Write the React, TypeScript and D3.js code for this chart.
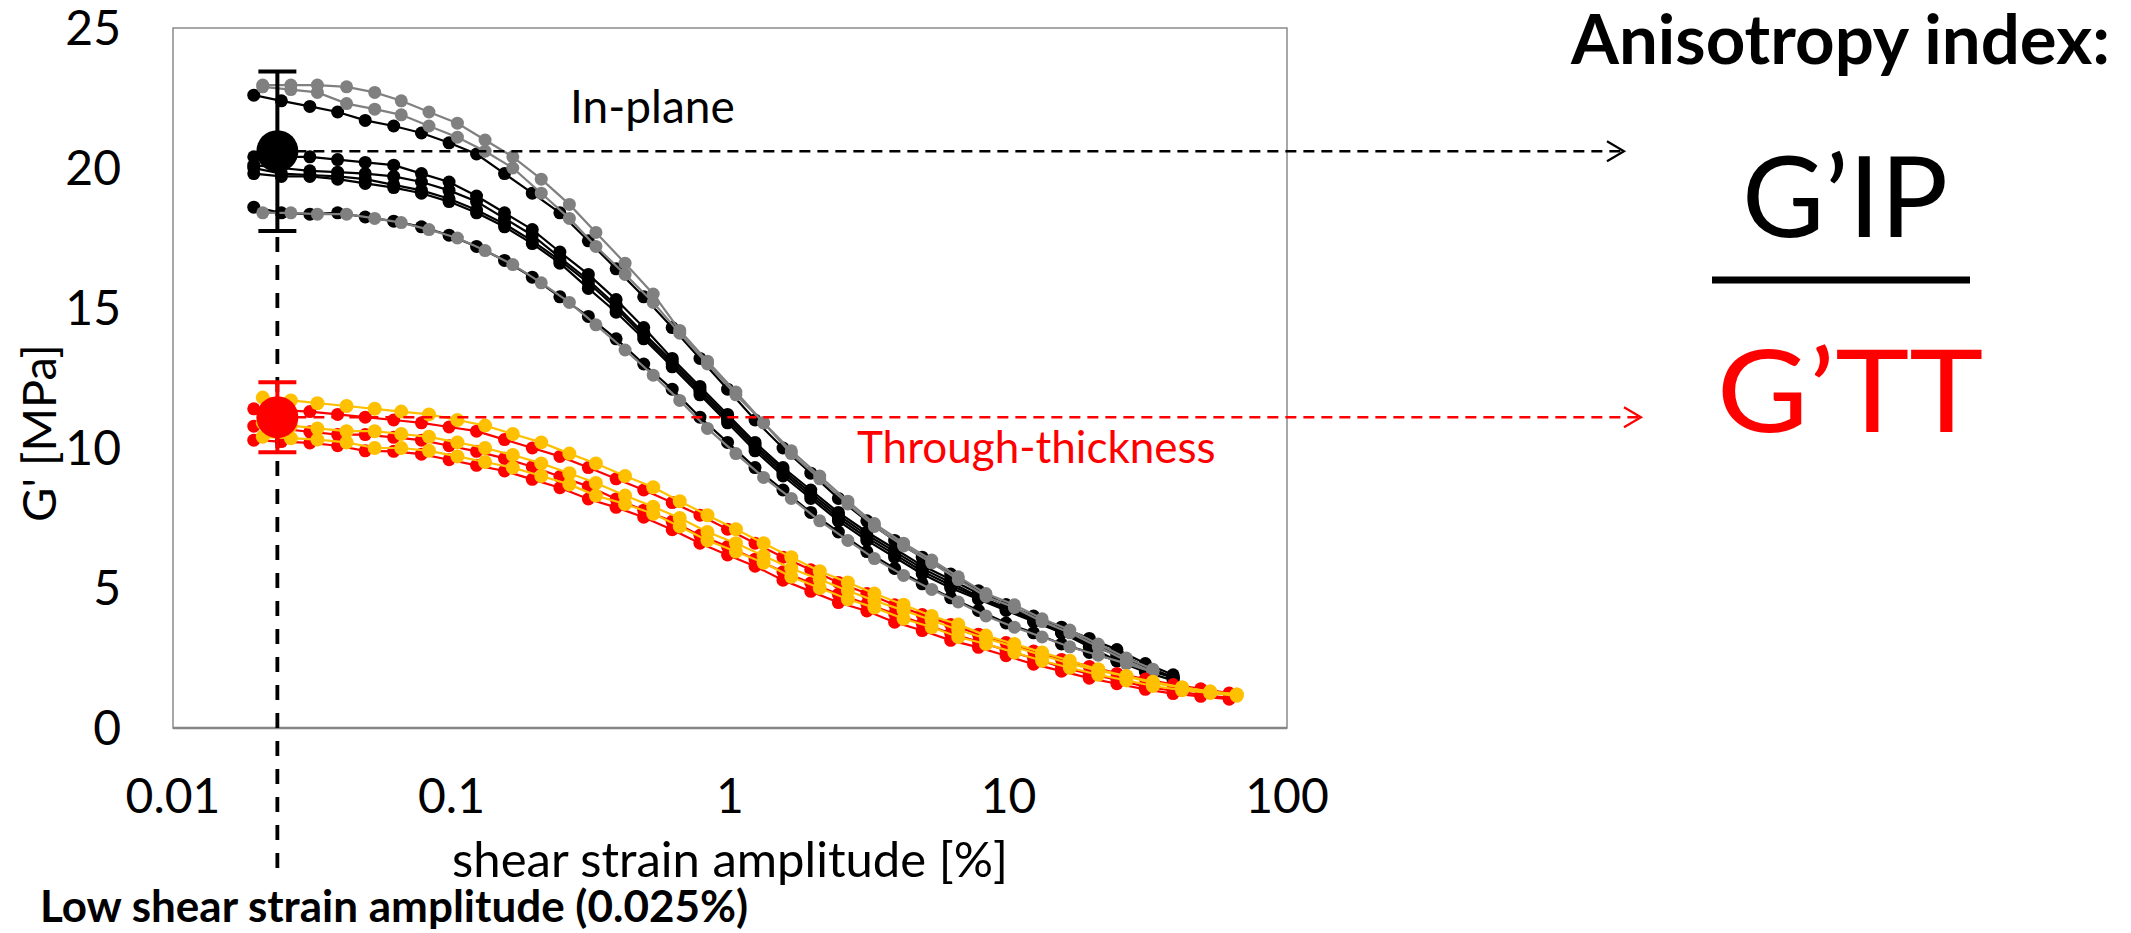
import React from 'react';
import * as d3 from 'd3';

// strain sweeps (%)
const strainA = [0.0195, 0.0245, 0.031, 0.039, 0.049, 0.062, 0.078, 0.098, 0.123, 0.155, 0.195, 0.245, 0.31, 0.39, 0.49, 0.62, 0.78, 0.98, 1.23, 1.55, 1.95, 2.45, 3.1, 3.9, 4.9, 6.2, 7.8, 9.8, 12.3, 15.5, 19.5, 24.5, 31, 39, 49, 62];
const strainB = [0.021, 0.0265, 0.033, 0.042, 0.053, 0.066, 0.083, 0.105, 0.132, 0.166, 0.21, 0.265, 0.33, 0.42, 0.53, 0.66, 0.83, 1.05, 1.32, 1.66, 2.1, 2.65, 3.3, 4.2, 5.3, 6.6, 8.3, 10.5, 13.2, 16.6, 21, 26.5, 33, 42, 53, 66];

// in-plane G' [MPa], black samples (strainA)
const inPlaneBlack = [
  [18.6, 18.4, 18.35, 18.4, 18.25, 18.1, 17.9, 17.6, 17.2, 16.7, 16.1, 15.4, 14.7, 13.9, 13.0, 12.1, 11.1, 10.2, 9.3, 8.5, 7.7, 7.0, 6.3, 5.7, 5.15, 4.65, 4.2, 3.75, 3.4, 3.0, 2.7, 2.4, 2.1, 1.8],
  [19.8, 19.7, 19.7, 19.6, 19.45, 19.3, 19.1, 18.8, 18.4, 17.9, 17.3, 16.6, 15.7, 14.85, 13.9, 12.9, 11.9, 10.9, 9.9, 9.0, 8.2, 7.4, 6.7, 6.1, 5.5, 5.0, 4.6, 4.2, 3.8, 3.4, 3.0, 2.6, 2.2, 1.8],
  [20.0, 19.8, 19.75, 19.7, 19.6, 19.4, 19.2, 18.9, 18.5, 18.0, 17.4, 16.7, 15.9, 15.0, 14.0, 13.0, 12.0, 11.0, 10.0, 9.1, 8.3, 7.5, 6.8, 6.2, 5.6, 5.1, 4.65, 4.25, 3.85, 3.45, 3.05, 2.65, 2.2, 1.8],
  [20.1, 20.0, 19.9, 19.85, 19.8, 19.7, 19.5, 19.2, 18.8, 18.2, 17.6, 16.8, 16.0, 15.1, 14.1, 13.1, 12.1, 11.1, 10.1, 9.2, 8.4, 7.6, 6.9, 6.3, 5.7, 5.2, 4.7, 4.3, 3.9, 3.5, 3.1, 2.7, 2.2, 1.8],
  [20.4, 20.4, 20.4, 20.3, 20.2, 20.1, 19.8, 19.5, 19.0, 18.4, 17.8, 17.0, 16.2, 15.3, 14.3, 13.2, 12.2, 11.2, 10.2, 9.3, 8.5, 7.7, 7.0, 6.4, 5.8, 5.3, 4.8, 4.4, 4.0, 3.6, 3.2, 2.8, 2.3, 1.9],
  [22.6, 22.4, 22.2, 22.0, 21.7, 21.5, 21.25, 20.9, 20.5, 19.8, 19.1, 18.4, 17.4, 16.4, 15.4, 14.3, 13.2, 12.1, 11.0, 10.0, 9.1, 8.2, 7.4, 6.7, 6.1, 5.5, 4.9, 4.4, 3.9, 3.4, 2.9, 2.4, 2.0, 1.7],
];

// in-plane G' [MPa], grey samples (strainB)
const inPlaneGrey = [
  [18.4, 18.4, 18.35, 18.35, 18.2, 18.05, 17.8, 17.5, 17.05, 16.55, 15.9, 15.2, 14.4, 13.5, 12.6, 11.7, 10.7, 9.8, 8.95, 8.2, 7.4, 6.7, 6.05, 5.45, 4.95, 4.5, 4.0, 3.6, 3.25, 2.9, 2.6, 2.3, 2.0],
  [22.9, 22.8, 22.7, 22.3, 22.1, 21.9, 21.5, 21.1, 20.6, 20.0, 19.1, 18.2, 17.2, 16.2, 15.2, 14.1, 13.0, 11.9, 10.9, 9.8, 8.9, 8.0, 7.2, 6.5, 5.9, 5.3, 4.7, 4.3, 3.8, 3.4, 2.9, 2.4, 2.0],
  [22.96, 22.96, 22.96, 22.9, 22.7, 22.4, 22.0, 21.6, 21.0, 20.4, 19.6, 18.7, 17.7, 16.6, 15.5, 14.2, 13.1, 12.0, 10.9, 9.9, 9.0, 8.1, 7.3, 6.6, 6.0, 5.4, 4.8, 4.4, 3.9, 3.5, 3.0, 2.5, 2.1],
];

// through-thickness G' [MPa], red samples (strainA)
const throughRed = [
  [10.28, 10.23, 10.18, 10.08, 9.9, 9.88, 9.78, 9.58, 9.38, 9.18, 8.88, 8.58, 8.18, 7.88, 7.53, 7.08, 6.6, 6.18, 5.78, 5.28, 4.88, 4.48, 4.18, 3.78, 3.48, 3.13, 2.88, 2.58, 2.28, 2.03, 1.78, 1.58, 1.38, 1.23, 1.13, 1.03],
  [10.78, 10.68, 10.58, 10.48, 10.48, 10.38, 10.28, 10.08, 9.88, 9.63, 9.33, 8.98, 8.63, 8.18, 7.78, 7.38, 6.88, 6.48, 6.03, 5.58, 5.18, 4.78, 4.43, 4.08, 3.73, 3.38, 3.08, 2.78, 2.48, 2.18, 1.93, 1.73, 1.48, 1.33, 1.18, 1.08],
  [11.4, 11.35, 11.3, 11.2, 11.1, 11.0, 10.9, 10.75, 10.6, 10.3, 10.0, 9.7, 9.3, 8.9, 8.5, 8.05, 7.6, 7.1, 6.6, 6.1, 5.65, 5.2, 4.8, 4.4, 4.05, 3.7, 3.35, 3.05, 2.75, 2.45, 2.2, 1.95, 1.75, 1.55, 1.4, 1.25],
];

// through-thickness G' [MPa], yellow samples (strainB)
const throughYellow = [
  [10.4, 10.35, 10.3, 10.2, 10.0, 10.0, 9.9, 9.7, 9.5, 9.3, 9.0, 8.7, 8.3, 8.0, 7.65, 7.2, 6.7, 6.3, 5.9, 5.4, 5.0, 4.6, 4.3, 3.9, 3.6, 3.25, 3.0, 2.7, 2.4, 2.15, 1.9, 1.7, 1.5, 1.35, 1.25, 1.15],
  [10.9, 10.8, 10.7, 10.6, 10.6, 10.5, 10.4, 10.2, 10.0, 9.75, 9.45, 9.1, 8.75, 8.3, 7.9, 7.5, 7.0, 6.6, 6.15, 5.7, 5.3, 4.9, 4.55, 4.2, 3.85, 3.5, 3.2, 2.9, 2.6, 2.3, 2.05, 1.85, 1.6, 1.45, 1.3, 1.2],
  [11.8, 11.7, 11.6, 11.5, 11.4, 11.3, 11.2, 11.0, 10.8, 10.5, 10.2, 9.8, 9.45, 9.0, 8.6, 8.1, 7.6, 7.1, 6.6, 6.1, 5.6, 5.2, 4.8, 4.4, 4.0, 3.7, 3.3, 3.0, 2.7, 2.4, 2.1, 1.85, 1.65, 1.45, 1.3, 1.2],
];

// means at low strain amplitude, with their error bars
const lowStrain = 0.0237;
const inPlaneMean = 20.6;
const inPlaneErr = 2.85;
const throughMean = 11.1;
const throughErr = 1.25;

const xTicks = [0.01, 0.1, 1, 10, 100];
const xTickLabels = ['0.01', '0.1', '1', '10', '100'];
const yTicks = [0, 5, 10, 15, 20, 25];

const W = 2131;
const H = 933;
const plot = { left: 173, right: 1287, top: 28, bottom: 728 };
const font = "Lato, 'Open Sans', sans-serif";

const x = d3.scaleLog().domain([0.01, 100]).range([plot.left, plot.right]);
const y = d3.scaleLinear().domain([0, 25]).range([plot.bottom, plot.top]);
const line = d3
  .line<[number, number]>()
  .x((d) => x(d[0]))
  .y((d) => y(d[1]));

const pts = (strain: number[], vals: number[]) =>
  vals.map((v, i) => [strain[i], v] as [number, number]);

const Series = ({ strain, vals, color, r = 6.5 }: { strain: number[]; vals: number[]; color: string; r?: number }) => {
  const p = pts(strain, vals);
  return (
    <g>
      <path d={line(p) || ''} fill="none" stroke={color} strokeWidth={2.2} />
      {p.map((d, i) => (
        <circle key={i} cx={x(d[0])} cy={y(d[1])} r={r} fill={color} />
      ))}
    </g>
  );
};

const App = () => {
  const mx = x(lowStrain);
  const ipY = y(inPlaneMean);
  const ttY = y(throughMean);

  return (
    <svg width={W} height={H} style={{ position: 'absolute', left: 0, top: 0, background: '#fff' }}>
      <rect x={plot.left} y={plot.top} width={plot.right - plot.left} height={plot.bottom - plot.top}
        fill="#fff" stroke="#8a8a8a" strokeWidth={1.5} />
      <line x1={plot.left} x2={plot.right} y1={plot.bottom} y2={plot.bottom} stroke="#868686" strokeWidth={2.5} />

      {yTicks.map((t) => (
        <text key={t} x={121} y={y(t)} dy="0.36em" textAnchor="end" fontFamily={font} fontSize={48}>{t}</text>
      ))}
      {xTicks.map((t, i) => (
        <text key={t} x={x(t)} y={796} dy="0.36em" textAnchor="middle" fontFamily={font} fontSize={48}>{xTickLabels[i]}</text>
      ))}
      <text x={(plot.left + plot.right) / 2} y={859} dy="0.36em" textAnchor="middle" fontFamily={font} fontSize={49}>
        shear strain amplitude [%]
      </text>
      <text transform="translate(39,433) rotate(-90)" dy="0.36em" textAnchor="middle" fontFamily={font} fontSize={47}>
        G' [MPa]
      </text>

      {inPlaneBlack.map((v, i) => <Series key={'b' + i} strain={strainA} vals={v} color="#000" />)}
      {inPlaneGrey.map((v, i) => <Series key={'g' + i} strain={strainB} vals={v} color="#808080" />)}
      {throughRed.map((v, i) => <Series key={'r' + i} strain={strainA} vals={v} color="#ff0000" />)}
      {throughYellow.map((v, i) => <Series key={'y' + i} strain={strainB} vals={v} color="#ffc000" r={7} />)}

      {/* guide lines */}
      <line x1={mx} x2={mx} y1={y(inPlaneMean - inPlaneErr) + 6} y2={874} stroke="#000" strokeWidth={3.8} strokeDasharray="15 13" />
      <line x1={mx} x2={1622} y1={ipY} y2={ipY} stroke="#000" strokeWidth={2.6} strokeDasharray="11 7" />
      <polyline points={`1607,${ipY - 10} 1624,${ipY} 1607,${ipY + 10}`} fill="none" stroke="#000" strokeWidth={2.2} />
      <line x1={mx} x2={1639} y1={ttY} y2={ttY} stroke="#ff0000" strokeWidth={2.4} strokeDasharray="11 7" />
      <polyline points={`1624,${ttY - 10} 1641,${ttY} 1624,${ttY + 10}`} fill="none" stroke="#ff0000" strokeWidth={2.2} />

      {/* error bars and means */}
      <g stroke="#000" strokeWidth={4}>
        <line x1={mx} x2={mx} y1={y(inPlaneMean + inPlaneErr)} y2={y(inPlaneMean - inPlaneErr)} />
        <line x1={mx - 19} x2={mx + 19} y1={y(inPlaneMean + inPlaneErr)} y2={y(inPlaneMean + inPlaneErr)} />
        <line x1={mx - 19} x2={mx + 19} y1={y(inPlaneMean - inPlaneErr)} y2={y(inPlaneMean - inPlaneErr)} />
      </g>
      <circle cx={mx} cy={ipY} r={21} fill="#000" />
      <g stroke="#ff0000" strokeWidth={4}>
        <line x1={mx} x2={mx} y1={y(throughMean + throughErr)} y2={y(throughMean - throughErr)} />
        <line x1={mx - 19} x2={mx + 19} y1={y(throughMean + throughErr)} y2={y(throughMean + throughErr)} />
        <line x1={mx - 19} x2={mx + 19} y1={y(throughMean - throughErr)} y2={y(throughMean - throughErr)} />
      </g>
      <circle cx={mx} cy={ttY} r={21} fill="#ff0000" />

      {/* annotations */}
      <text x={570} y={123} fontFamily={font} fontSize={46}>In-plane</text>
      <text x={857} y={463} fontFamily={font} fontSize={44} fill="#ff0000">Through-thickness</text>
      <text x={40} y={922} fontFamily={font} fontWeight="bold" fontSize={44}>Low shear strain amplitude (0.025%)</text>

      <text x={2110} y={64} textAnchor="end" fontFamily={font} fontWeight="bold" fontSize={69}>Anisotropy index:</text>
      <text x={1845} y={237} textAnchor="middle" fontFamily={font} fontSize={113}>G’IP</text>
      <line x1={1712} x2={1970} y1={280} y2={280} stroke="#000" strokeWidth={7} />
      <text transform="translate(1850,432) scale(1.1,1)" textAnchor="middle" fontFamily={font} fontSize={114} fill="#ff0000">G’TT</text>
    </svg>
  );
};

export default App;
